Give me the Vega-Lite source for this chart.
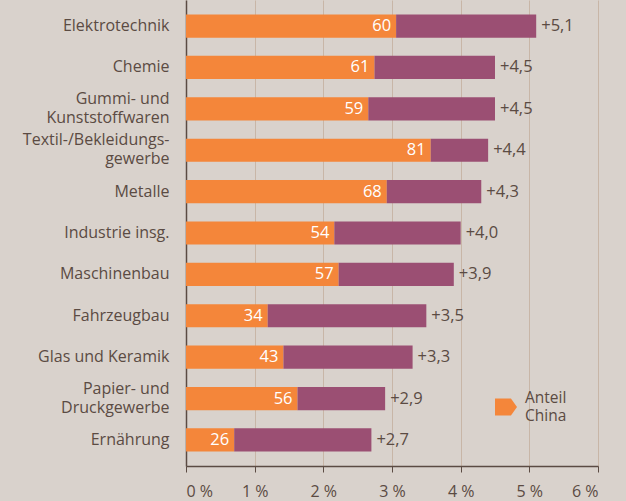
{
  "$schema": "https://vega.github.io/schema/vega-lite/v6.json",
  "width": 412,
  "height": 466,
  "autosize": "none",
  "padding": {"left": 186, "top": 0, "right": 28, "bottom": 35},
  "background": "#d9d2cc",
  "config": {
    "view": {"stroke": null},
    "font": "Open Sans",
    "locale": {"number": {"decimal": ",", "thousands": ".", "grouping": [3], "currency": ["", " €"]}}
  },
  "data": {
    "values": [
      {"sector": "Elektrotechnik", "total": 5.1, "share": 60, "china": 3.06},
      {"sector": "Chemie", "total": 4.5, "share": 61, "china": 2.745},
      {"sector": "Gummi- und|Kunststoffwaren", "total": 4.5, "share": 59, "china": 2.655},
      {"sector": "Textil-/Bekleidungs-|gewerbe", "total": 4.4, "share": 81, "china": 3.564},
      {"sector": "Metalle", "total": 4.3, "share": 68, "china": 2.924},
      {"sector": "Industrie insg.", "total": 4.0, "share": 54, "china": 2.16},
      {"sector": "Maschinenbau", "total": 3.9, "share": 57, "china": 2.223},
      {"sector": "Fahrzeugbau", "total": 3.5, "share": 34, "china": 1.19},
      {"sector": "Glas und Keramik", "total": 3.3, "share": 43, "china": 1.419},
      {"sector": "Papier- und|Druckgewerbe", "total": 2.9, "share": 56, "china": 1.624},
      {"sector": "Ernährung", "total": 2.7, "share": 26, "china": 0.702}
    ]
  },
  "encoding": {
    "y": {
      "field": "sector",
      "type": "nominal",
      "sort": null,
      "scale": {"paddingInner": 0.44, "paddingOuter": 0.35},
      "axis": {
        "title": null,
        "ticks": false,
        "domainColor": "#5b4b43",
        "domainWidth": 1.5,
        "labelExpr": "split(datum.value, '|')",
        "labelFontSize": 16,
        "labelBaseline": {"condition": {"test": "indexof(datum.value, '|') >= 0", "value": "line-bottom"}, "value": "middle"},
        "labelColor": "#5b4b43",
        "labelPadding": 17,
        "labelLineHeight": 19
      }
    }
  },
  "layer": [
    {
      "mark": {"type": "bar"},
      "encoding": {
        "x": {
          "field": "china",
          "type": "quantitative",
          "scale": {"domain": [0, 6], "nice": false},
          "axis": {
            "title": null,
            "values": [0, 1, 2, 3, 4, 5, 6],
            "labelExpr": "datum.value + ' %'",
            "labelFontSize": 16,
            "labelColor": "#5b4b43",
            "labelPadding": 11,
            "tickSize": 6,
            "tickColor": "#5b4b43",
            "domainColor": "#5b4b43",
            "domainWidth": 1.5,
            "grid": true,
            "gridColor": "#c8b6a7",
            "gridWidth": 1
          }
        },
        "color": {
          "datum": "Anteil China",
          "scale": {"range": ["#f4863a"]},
          "legend": {
            "title": null,
            "orient": "none",
            "legendX": 309,
            "legendY": 396,
            "symbolType": "M-1,-0.78L0.45,-0.78L1,0L0.45,0.78L-1,0.78Z",
            "symbolSize": 484,
            "symbolStrokeWidth": 0,
            "labelExpr": "['Anteil', 'China']",
            "labelBaseline": "line-bottom",
            "labelFontSize": 15.5,
            "labelColor": "#5b4b43",
            "labelLineHeight": 19,
            "labelOffset": 8
          }
        }
      }
    },
    {
      "mark": {"type": "bar", "color": "#9b4f73"},
      "encoding": {
        "x": {"field": "china", "type": "quantitative"},
        "x2": {"field": "total"}
      }
    },
    {
      "mark": {"type": "text", "align": "right", "dx": -5, "color": "white", "fontSize": 16.5, "baseline": "middle"},
      "encoding": {
        "x": {"field": "china", "type": "quantitative"},
        "text": {"field": "share", "type": "quantitative"}
      }
    },
    {
      "mark": {"type": "text", "align": "left", "dx": 5, "color": "#5b4b43", "fontSize": 16.5, "baseline": "middle"},
      "encoding": {
        "x": {"field": "total", "type": "quantitative"},
        "text": {"field": "total", "type": "quantitative", "format": "+.1f"}
      }
    }
  ]
}
